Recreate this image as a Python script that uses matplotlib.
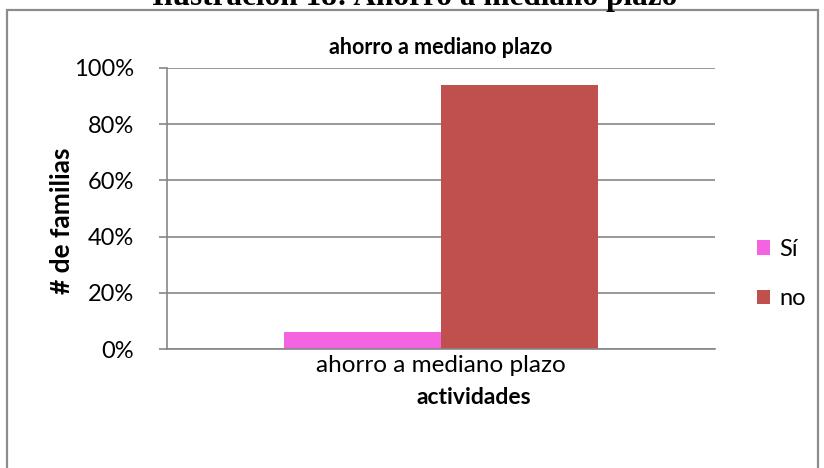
import numpy as np
import matplotlib.pyplot as plt
from matplotlib.patches import Rectangle

categories = ["ahorro a mediano plazo"]
series = ["Sí", "no"]
values = [6, 94]
colors = ["#F564E0", "#C0504D"]
yticks = [0, 20, 40, 60, 80, 100]

plt.rcParams['font.family'] = ['Lato', 'DejaVu Sans']

W, H = 824, 468
fig = plt.figure(figsize=(W / 100, H / 100), dpi=100)

# outer chart frame (bottom edge is off the picture)
fig.patches.append(Rectangle((7 / W, -0.05), 811 / W, 1.05 - 10 / H,
                             transform=fig.transFigure, fill=False,
                             edgecolor="#8c8c8c", linewidth=1.6))

# caption above the chart, mostly cut off
fig.text(415 / W, 1 - 5 / H, "Ilustración 18: Ahorro a mediano plazo",
         ha="center", va="baseline", fontsize=22.5, fontweight="bold",
         family="Liberation Serif")

ax = fig.add_axes([167 / W, 1 - 349 / H, (715 - 167) / W, (349 - 68) / H])

x = np.arange(len(categories))
bw = 0.287
for i, (name, v) in enumerate(zip(series, [values[0:1], values[1:2]])):
    ax.bar(x + (i - 0.5) * bw, v, width=bw, color=colors[i], label=name, zorder=2)

ax.set_xlim(-0.5, 0.5)
ax.set_ylim(0, 100)
ax.set_yticks(yticks)
ax.set_yticklabels([f"{t}%" for t in yticks], fontsize=17)
ax.set_xticks(x)
ax.set_xticklabels(categories, fontsize=17.5)
ax.yaxis.grid(True, color="#868686", linewidth=1.2, zorder=0)
ax.tick_params(axis="y", length=6, color="#868686", width=1.2, pad=18)
ax.tick_params(axis="x", length=0, pad=4)
for s in ["top", "right"]:
    ax.spines[s].set_visible(False)
for s in ["left", "bottom"]:
    ax.spines[s].set_color("#868686")
    ax.spines[s].set_linewidth(1.2)

ax.set_title("ahorro a mediano plazo", fontsize=15.5, fontweight="bold", pad=10)
ax.set_ylabel("# de familias", fontsize=19, fontweight="bold", va="center")
ax.yaxis.set_label_coords((62 - 167) / 548, (349 - 221) / 281)
ax.set_xlabel("actividades", fontsize=16.5, fontweight="bold", va="center")
ax.xaxis.set_label_coords((474 - 167) / 548, (349 - 397) / 281)

ax.legend(loc="center left", bbox_to_anchor=(757 / W, 1 - 274 / H),
          bbox_transform=fig.transFigure, frameon=False, fontsize=17,
          borderpad=0, borderaxespad=0, handlelength=0.55, handleheight=0.55,
          handletextpad=0.4, labelspacing=1.2)

fig.savefig("out.png", dpi=100)
